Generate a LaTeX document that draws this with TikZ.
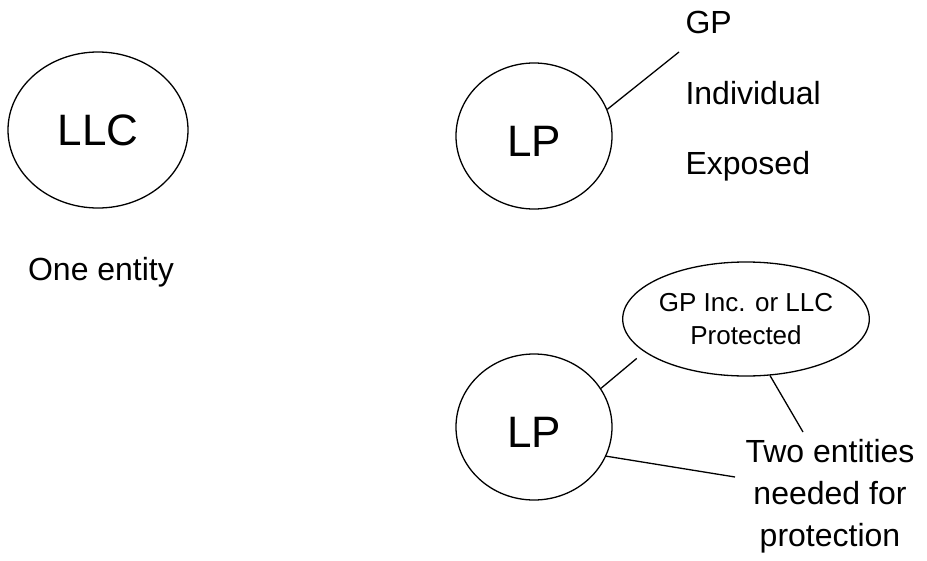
\documentclass[tikz,border=0pt]{standalone}
\usepackage{fontspec}
\setmainfont{Liberation Sans}
\usetikzlibrary{shapes.geometric,positioning}
\tikzset{
	entity/.style={draw=black, ellipse, inner sep=0pt, line width=1.3pt},
	link/.style={draw=black, line width=1.3pt},
	bigtext/.style={font=\fontsize{44}{50}\selectfont},
	midtext/.style={font=\fontsize{32}{42}\selectfont},
	smalltext/.style={font=\fontsize{26}{33}\selectfont},
}

\begin{document}
\begin{tikzpicture}[x=1pt,y=-1pt]
	\useasboundingbox (0,0) rectangle (927,560);
	% LLC: one entity
	\node[entity,bigtext,minimum width=180pt,minimum height=156pt] (llc) at (98,130) {LLC};
	\node[midtext,anchor=base] (one) at (101,280) {One entity};
	% LP with an individual GP
	\node[entity,bigtext,minimum width=156pt,minimum height=146pt,text height=41pt,text depth=0pt] (lpA) at (534,136) {LP};
	\node[midtext,anchor=base west] (gp) at (682,33) {GP};
	\node[midtext,anchor=base west] (indiv) at (682,104) {Individual};
	\node[midtext,anchor=base west] (exposed) at (682,174) {Exposed};
	\coordinate (gpEnd) at (679,52);
	\draw[link] (lpA.20) -- (gpEnd);
	% LP with a GP that is itself protected
	\node[entity,bigtext,minimum width=156pt,minimum height=146pt,text height=41pt,text depth=0pt] (lpB) at (534,427) {LP};
	\node[entity,smalltext,align=center,minimum width=246pt,minimum height=114pt] (gpinc) at (746,319) {GP Inc. or LLC\\Protected};
	\node[midtext,align=center,anchor=north] (two) at (830,436) {Two entities\\needed for\\protection};
	\coordinate (twoTop) at (803,432);
	\coordinate (twoLeft) at (735,477);
	\draw[link,shorten >=10pt] (lpB.30) -- (gpinc.198);
	\draw[link] (gpinc.-67) -- (twoTop);
	\draw[link] (lpB.-22) -- (twoLeft);
\end{tikzpicture}
\end{document}
